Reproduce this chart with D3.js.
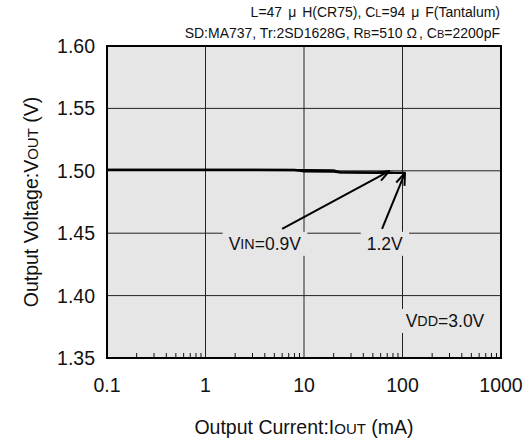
<!DOCTYPE html>
<html>
<head>
<meta charset="utf-8">
<script src="https://cdn.jsdelivr.net/npm/d3@7"></script>
<style>
  body { margin: 0; background: #fff; }
  text { font-family: "Liberation Sans", Arial, sans-serif; fill: #111; }
</style>
</head>
<body>
<div id="chart"></div>
<script>
// chart values
var xTicks = [0.1, 1, 10, 100, 1000];
var xTickLabels = ["0.1", "1", "10", "100", "1000"];
var yTicks = [1.35, 1.40, 1.45, 1.50, 1.55, 1.60];
var yTickLabels = ["1.35", "1.40", "1.45", "1.50", "1.55", "1.60"];

// Iout (mA) / Vout (V)
var iout09 = [0.1, 1, 8, 10, 20, 23, 50, 80];
var vout09 = [1.5008, 1.5008, 1.5007, 1.4996, 1.4994, 1.4987, 1.4985, 1.4984];
var iout12 = [0.1, 1, 10, 20, 23, 50, 100, 108];
var vout12 = [1.5008, 1.5008, 1.5006, 1.5004, 1.4990, 1.4986, 1.4984, 1.4983];

var width = 532, height = 443;
var margin = {top: 46, right: 31, bottom: 86, left: 107};

var svg = d3.select("#chart").append("svg")
	.attr("width", width)
	.attr("height", height);

var x = d3.scaleLog().domain([0.1, 1000]).range([margin.left, width - margin.right]);
var y = d3.scaleLinear().domain([1.35, 1.60]).range([height - margin.bottom + 1, margin.top]);

// plot background
svg.append("rect")
	.attr("x", x(0.1)).attr("y", y(1.60))
	.attr("width", x(1000) - x(0.1)).attr("height", y(1.35) - y(1.60))
	.attr("fill", "#e6e6e6");

// grid
svg.selectAll(".vgrid").data([1, 10, 100]).enter().append("line")
	.attr("x1", function(d) { return x(d); }).attr("x2", function(d) { return x(d); })
	.attr("y1", y(1.60)).attr("y2", y(1.35))
	.attr("stroke", "#222").attr("stroke-width", 1);
svg.selectAll(".hgrid").data([1.40, 1.45, 1.50, 1.55]).enter().append("line")
	.attr("x1", x(0.1)).attr("x2", x(1000))
	.attr("y1", function(d) { return y(d); }).attr("y2", function(d) { return y(d); })
	.attr("stroke", "#222").attr("stroke-width", 1);

// minor ticks on bottom axis
var minor = [];
[0.1, 1, 10, 100].forEach(function(dec) {
	for (var k = 2; k <= 9; k++) minor.push(dec * k);
});
svg.selectAll(".minor").data(minor).enter().append("line")
	.attr("x1", function(d) { return x(d); }).attr("x2", function(d) { return x(d); })
	.attr("y1", y(1.35)).attr("y2", y(1.35) - 5)
	.attr("stroke", "#111").attr("stroke-width", 1);

// curves
var line = d3.line()
	.x(function(d) { return x(d[0]); })
	.y(function(d) { return y(d[1]); });

svg.append("path")
	.attr("d", line(d3.zip(iout09, vout09)))
	.attr("fill", "none").attr("stroke", "#000").attr("stroke-width", 2.2);
svg.append("path")
	.attr("d", line(d3.zip(iout12, vout12)))
	.attr("fill", "none").attr("stroke", "#000").attr("stroke-width", 2.2);

// labels with plot-coloured background
function label(parts, cx, cy, size) {
	var g = svg.append("g");
	var bg = g.append("rect").attr("fill", "#e6e6e6");
	var t = g.append("text")
		.attr("x", x(cx)).attr("y", y(cy))
		.attr("text-anchor", "middle")
		.attr("dominant-baseline", "central")
		.style("font-size", size + "px");
	parts.forEach(function(p) {
		t.append("tspan").text(p[0]).style("font-size", (p[1] ? size * 0.82 : size) + "px");
	});
	var b = t.node().getBBox();
	bg.attr("x", b.x - 6).attr("y", b.y - 2).attr("width", b.width + 12).attr("height", b.height + 4);
}
label([["V"], ["IN", 1], ["=0.9V"]], 4.0, 1.4415, 17.5);
label([["1.2V"]], 66, 1.4415, 17.5);
label([["V"], ["DD", 1], ["=3.0V"]], 270, 1.3797, 17.5);

// arrows
function arrow(x0, y0, x1, y1) {
	var p0 = [x(x0), y(y0)], p1 = [x(x1), y(y1)];
	var a = Math.atan2(p1[1] - p0[1], p1[0] - p0[0]);
	var len = 13, sp = 0.35;
	svg.append("line")
		.attr("x1", p0[0]).attr("y1", p0[1]).attr("x2", p1[0]).attr("y2", p1[1])
		.attr("stroke", "#000").attr("stroke-width", 2);
	[-sp, sp].forEach(function(s) {
		svg.append("line")
			.attr("x1", p1[0]).attr("y1", p1[1])
			.attr("x2", p1[0] - len * Math.cos(a + s)).attr("y2", p1[1] - len * Math.sin(a + s))
			.attr("stroke", "#000").attr("stroke-width", 2);
	});
}
arrow(6, 1.4534, 74, 1.4999);
arrow(62, 1.4534, 106, 1.4983);

// frame
svg.append("rect")
	.attr("x", x(0.1)).attr("y", y(1.60))
	.attr("width", x(1000) - x(0.1)).attr("height", y(1.35) - y(1.60))
	.attr("fill", "none").attr("stroke", "#000").attr("stroke-width", 2);

// tick labels
svg.selectAll(".xl").data(xTicks).enter().append("text")
	.attr("x", function(d) { return x(d); })
	.attr("y", y(1.35) + 34)
	.attr("text-anchor", "middle")
	.style("font-size", "19.5px")
	.text(function(d, i) { return xTickLabels[i]; });
svg.selectAll(".yl").data(yTicks).enter().append("text")
	.attr("x", x(0.1) - 12)
	.attr("y", function(d) { return y(d); })
	.attr("dy", "0.36em")
	.attr("text-anchor", "end")
	.style("font-size", "19.5px")
	.text(function(d, i) { return yTickLabels[i]; });

// axis titles
var xt = svg.append("text")
	.attr("x", (x(0.1) + x(1000)) / 2).attr("y", 434)
	.attr("text-anchor", "middle").style("font-size", "19.5px");
xt.append("tspan").text("Output Current:I");
xt.append("tspan").text("OUT").style("font-size", "15px");
xt.append("tspan").text(" (mA)");

var yt = svg.append("text")
	.attr("transform", "translate(38," + ((y(1.35) + y(1.60)) / 2) + ") rotate(-90)")
	.attr("text-anchor", "middle").style("font-size", "19.5px");
yt.append("tspan").text("Output Voltage:V");
yt.append("tspan").text("OUT").style("font-size", "15px");
yt.append("tspan").text(" (V)");

// conditions
var t1 = svg.append("text").attr("x", 500).attr("y", 17)
	.attr("text-anchor", "end").style("font-size", "14px");
t1.append("tspan").text("L=47");
t1.append("tspan").attr("dx", 6).text("μ");
t1.append("tspan").attr("dx", 6).text("H(CR75), C");
t1.append("tspan").text("L").style("font-size", "11px");
t1.append("tspan").text("=94");
t1.append("tspan").attr("dx", 6).text("μ");
t1.append("tspan").attr("dx", 6).text("F(Tantalum)");

var t2 = svg.append("text").attr("x", 500).attr("y", 38)
	.attr("text-anchor", "end").style("font-size", "14px");
t2.append("tspan").text("SD:MA737, Tr:2SD1628G, R");
t2.append("tspan").text("B").style("font-size", "11px");
t2.append("tspan").text("=510");
t2.append("tspan").attr("dx", 4).text("Ω");
t2.append("tspan").attr("dx", 2).text(",");
t2.append("tspan").attr("dx", 4).text("C");
t2.append("tspan").text("B").style("font-size", "11px");
t2.append("tspan").text("=2200pF");
</script>
</body>
</html>
